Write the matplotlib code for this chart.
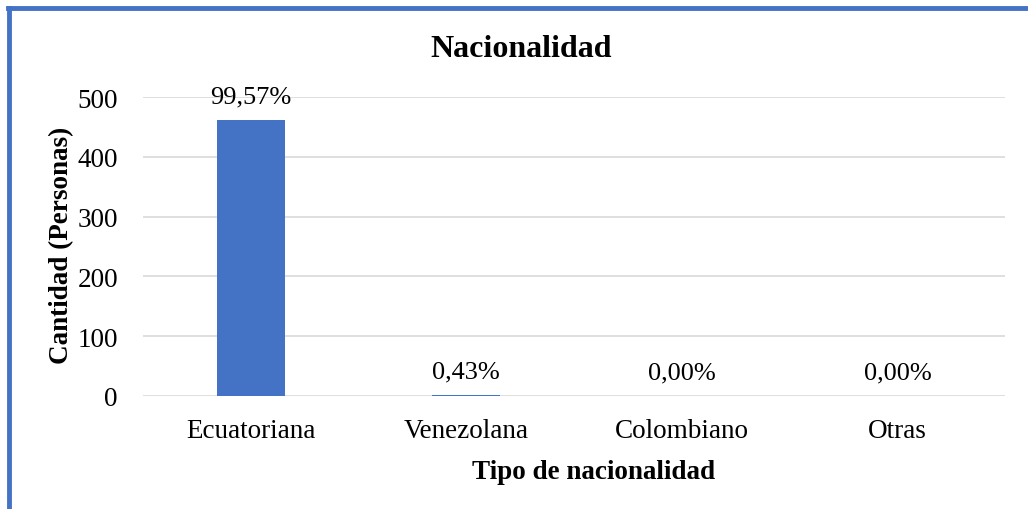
import matplotlib.pyplot as plt
from matplotlib.lines import Line2D

# data
categorias = ['Ecuatoriana', 'Venezolana', 'Colombiano', 'Otras']
cantidad = [462, 2, 0, 0]
porcentajes = ['99,57%', '0,43%', '0,00%', '0,00%']

plt.rcParams['font.family'] = ['Liberation Serif', 'DejaVu Serif']

fig = plt.figure(figsize=(10.28, 5.10), dpi=100)
ax = fig.add_axes([0.139, 0.2216, 0.839, 0.5862])

x = range(len(categorias))
bars = ax.bar(x, cantidad, width=0.315, color='#4472C4', zorder=3)

for b, txt in zip(bars, porcentajes):
    ax.annotate(txt, xy=(b.get_x() + b.get_width() / 2, b.get_height()),
                xytext=(0, 17), textcoords='offset points',
                ha='center', va='center', fontsize=19)

ax.set_ylim(0, 500)
ax.set_xlim(-0.5, 3.5)
ax.set_yticks([0, 100, 200, 300, 400, 500])
ax.set_xticks(list(x))
ax.set_xticklabels(categorias)
ax.tick_params(axis='both', length=0, labelsize=19.5)
ax.tick_params(axis='y', pad=18)
ax.tick_params(axis='x', pad=16)
ax.grid(axis='y', color='#d9d9d9', linewidth=1.2, zorder=0)
for s in ax.spines.values():
    s.set_visible(False)

fig.text(0.507, 0.902, 'Nacionalidad', fontsize=23, fontweight='bold',
         ha='center', va='center')
fig.text(0.060, 0.518, 'Cantidad (Personas)', fontsize=19.5, fontweight='bold',
         rotation=90, ha='center', va='center')
fig.text(0.577, 0.073, 'Tipo de nacionalidad', fontsize=19.5, fontweight='bold',
         ha='center', va='center')

# blue frame on the left and top
fig.add_artist(Line2D([0.0088, 0.0088], [0.0, 0.983], color='#4472C4', linewidth=3.5,
                      transform=fig.transFigure))
fig.add_artist(Line2D([0.0075, 1.0], [0.983, 0.983], color='#4472C4', linewidth=3.5,
                      transform=fig.transFigure))

fig.savefig('out.png', dpi=100)
